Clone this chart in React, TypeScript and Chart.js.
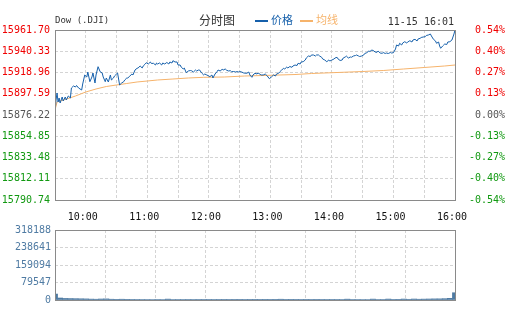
import React, { useEffect, useRef } from "react";
import { Chart, registerables } from "chart.js";

Chart.register(...registerables);

// ---------- data ----------
const titleText = "Dow (.DJI)";
const chartTypeText = "分时图";
const dateText = "11-15 16:01";
const priceLabel = "价格";
const avgLabel = "均线";

const prevClose = 15876.22;

const yTickValues = [15961.70, 15940.33, 15918.96, 15897.59, 15876.22, 15854.85, 15833.48, 15812.11, 15790.74];
const yTickLabels = ["15961.70", "15940.33", "15918.96", "15897.59", "15876.22", "15854.85", "15833.48", "15812.11", "15790.74"];
const pctTickLabels = ["0.54%", "0.40%", "0.27%", "0.13%", "0.00%", "-0.13%", "-0.27%", "-0.40%", "-0.54%"];

// minutes since 09:30
const gridMinutes = [0, 30, 60, 90, 120, 150, 180, 210, 240, 270, 300, 330, 360, 390];
const timeTickMinutes = [30, 90, 150, 210, 270, 330, 390];
const timeTickLabels = ["10:00", "11:00", "12:00", "13:00", "14:00", "15:00", "16:00"];

const priceMinutes = [
  0, 1, 2, 3, 4, 5, 7, 8, 10, 11,
  13, 15, 16, 18, 20, 21, 23, 26, 27, 29,
  31, 32, 34, 36, 37, 39, 40, 42, 44, 46,
  47, 49, 50, 52, 54, 55, 57, 58, 61, 62,
  63, 65, 67, 68, 70, 71, 73, 75, 76, 78,
  80, 81, 83, 85, 86, 88, 89, 91, 93, 94,
  96, 98, 99, 100, 102, 104, 105, 107, 109, 111,
  112, 114, 115, 117, 119, 120, 122, 123, 125, 126,
  128, 130, 132, 133, 135, 137, 138, 140, 141, 143,
  145, 146, 148, 150, 151, 153, 154, 156, 158, 159,
  161, 163, 164, 166, 167, 169, 171, 172, 174, 176,
  177, 179, 180, 182, 184, 187, 189, 190, 192, 193,
  195, 197, 198, 200, 201, 203, 205, 207, 209, 211,
  213, 215, 216, 218, 219, 221, 223, 224, 226, 227,
  229, 231, 232, 234, 236, 237, 239, 240, 242, 244,
  245, 247, 249, 250, 252, 254, 255, 257, 258, 260,
  261, 263, 265, 267, 268, 270, 272, 273, 275, 276,
  278, 280, 281, 283, 284, 286, 288, 289, 291, 293,
  294, 296, 297, 299, 301, 302, 304, 306, 307, 309,
  311, 312, 314, 315, 317, 319, 320, 322, 323, 325,
  327, 328, 330, 332, 333, 335, 336, 338, 339, 341,
  343, 344, 346, 348, 349, 351, 353, 354, 356, 357,
  359, 361, 362, 364, 366, 367, 369, 371, 372, 374,
  375, 376, 378, 379, 380, 382, 383, 385, 387, 389,
  390,
];

const prices = [
  15878.23, 15891.30, 15898.34, 15889.29, 15893.32, 15888.29, 15894.32, 15890.30, 15894.32, 15891.30,
  15895.33, 15893.32, 15903.37, 15905.38, 15904.38, 15905.89, 15903.37, 15901.36, 15907.40, 15916.45,
  15914.43, 15919.46, 15909.71, 15914.43, 15918.46, 15908.40, 15916.45, 15924.79, 15919.76, 15918.46,
  15914.43, 15909.71, 15913.43, 15909.41, 15916.45, 15911.42, 15913.43, 15915.44, 15918.46, 15912.42,
  15906.39, 15908.40, 15909.71, 15911.42, 15913.43, 15913.43, 15915.44, 15917.45, 15916.45, 15921.47,
  15923.18, 15923.49, 15925.50, 15923.49, 15925.50, 15927.51, 15928.82, 15927.51, 15929.52, 15928.01,
  15928.21, 15926.50, 15928.51, 15927.51, 15928.51, 15926.50, 15928.51, 15927.51, 15929.02, 15927.51,
  15929.52, 15928.51, 15930.83, 15929.52, 15929.52, 15926.50, 15926.50, 15924.49, 15922.48, 15923.49,
  15918.76, 15920.47, 15920.97, 15920.77, 15919.46, 15921.47, 15920.47, 15921.47, 15921.47, 15918.46,
  15916.45, 15917.45, 15916.45, 15915.44, 15914.74, 15916.45, 15913.43, 15917.45, 15919.76, 15921.47,
  15920.47, 15922.18, 15921.47, 15922.48, 15921.47, 15920.47, 15920.77, 15919.76, 15919.96, 15919.46,
  15919.96, 15919.46, 15919.96, 15919.46, 15918.46, 15918.15, 15919.46, 15916.45, 15914.13, 15916.45,
  15918.15, 15917.45, 15918.46, 15917.15, 15916.45, 15916.45, 15917.45, 15915.44, 15912.72, 15914.43,
  15916.45, 15915.44, 15917.45, 15918.15, 15919.46, 15921.47, 15923.18, 15922.48, 15924.49, 15923.49,
  15924.99, 15924.19, 15925.50, 15926.50, 15926.00, 15928.21, 15927.51, 15929.52, 15929.82, 15931.53,
  15933.54, 15935.55, 15935.05, 15936.56, 15936.56, 15935.55, 15936.56, 15936.56, 15935.55, 15934.25,
  15932.54, 15931.53, 15929.82, 15931.53, 15930.52, 15931.53, 15932.54, 15933.54, 15934.25, 15932.54,
  15931.03, 15931.53, 15933.54, 15934.55, 15935.55, 15933.54, 15934.55, 15934.25, 15935.55, 15936.06,
  15936.56, 15935.55, 15935.05, 15935.55, 15936.56, 15938.07, 15938.87, 15940.58, 15940.08, 15941.59,
  15940.58, 15939.58, 15939.27, 15940.58, 15938.57, 15938.27, 15939.07, 15938.07, 15938.57, 15938.07,
  15939.07, 15938.57, 15938.87, 15942.59, 15946.62, 15945.61, 15948.33, 15946.62, 15948.63, 15949.93,
  15948.63, 15949.63, 15950.94, 15949.63, 15951.64, 15952.35, 15950.64, 15952.65, 15953.35, 15954.16,
  15954.66, 15954.96, 15956.17, 15956.67, 15957.68, 15955.67, 15952.35, 15950.64, 15948.33, 15949.63,
  15945.61, 15943.30, 15945.61, 15946.62, 15947.62, 15947.12, 15949.63, 15949.93, 15951.64, 15957.68,
  15961.70,
];

const avgMinutes = [0, 2, 10, 20, 30, 40, 50, 60, 70, 80, 90, 100, 115, 130, 145, 165, 185, 210, 235, 250, 275, 300, 320, 340, 360, 380, 390];
const avgPrices = [
  15881.25, 15889.29, 15891.81, 15895.33, 15899.35, 15902.37, 15904.88, 15906.39, 15907.90, 15909.41,
  15910.41, 15911.42, 15912.42, 15913.43, 15914.13, 15914.43, 15915.44, 15916.15, 15916.95, 15917.95,
  15918.96, 15919.96, 15920.97, 15922.48, 15923.99, 15925.50, 15926.50,
];

const volTickValues = [318188, 238641, 159094, 79547, 0];
const volTickLabels = ["318188", "238641", "159094", "79547", "0"];
const volGridMinutes = [0, 48.75, 97.5, 146.25, 195, 243.75, 292.5, 341.25, 390];

const volMinutes = [
  0, 5, 10, 15, 20, 25, 30, 35, 40, 45,
  50, 55, 60, 65, 70, 75, 80, 85, 90, 95,
  100, 105, 110, 115, 120, 125, 130, 135, 140, 145,
  150, 155, 160, 165, 170, 175, 180, 185, 190, 195,
  200, 205, 210, 215, 220, 225, 230, 235, 240, 245,
  250, 255, 260, 265, 270, 275, 280, 285, 290, 295,
  300, 305, 310, 315, 320, 325, 330, 335, 340, 345,
  350, 355, 360, 365, 370, 375, 380, 385, 390,
];
const volumes = [
  27000, 9000, 7000, 6500, 6000, 5500, 5000, 4000, 3500, 4500,
  5000, 3500, 3000, 3500, 3000, 2800, 2600, 2500, 2400, 2300,
  2500, 2200, 4000, 2100, 2000, 2000, 1900, 2000, 1900, 1800,
  1800, 1900, 1800, 1700, 1800, 1700, 1700, 1800, 1700, 1600,
  1700, 1600, 1700, 1600, 3500, 1700, 1600, 1700, 1800, 1700,
  1800, 1700, 1800, 1900, 1800, 1900, 2000, 3800, 2000, 2100,
  2200, 2300, 4000, 2500, 2600, 4200, 2800, 3000, 4300, 3200,
  4400, 3500, 4000, 4500, 5000, 5200, 6000, 7500, 33000,
];

// ---------- styles ----------
const MONO = "'DejaVu Sans Mono', 'Liberation Mono', monospace";
const CJK = "'Noto Sans CJK SC', sans-serif";
const PRICE_COLOR = "#1660ab";
const AVG_COLOR = "#f6b36b";
const VOL_COLOR = "#4f7ba3";
const RED = "#f00000";
const GREEN = "#119911";
const GRAY = "#555555";
const GRID_COLOR = "#d4d4d4";
const FRAME_COLOR = "#8a8a8a";

const framePlugin = {
  id: "frame",
  afterDraw(chart: any) {
    const { ctx, chartArea } = chart;
    ctx.save();
    ctx.strokeStyle = FRAME_COLOR;
    ctx.lineWidth = 1;
    ctx.strokeRect(
      chartArea.left + 0.5,
      chartArea.top + 0.5,
      chartArea.right - chartArea.left,
      chartArea.bottom - chartArea.top
    );
    ctx.restore();
  },
};

const headerPlugin = {
  id: "header",
  afterDraw(chart: any) {
    const { ctx } = chart;
    ctx.save();
    ctx.textBaseline = "middle";
    ctx.textAlign = "left";
    ctx.fillStyle = "#333";
    ctx.font = `9px ${MONO}`;
    ctx.fillText(titleText, 55, 21);
    ctx.font = `12px ${CJK}`;
    ctx.fillText(chartTypeText, 199, 20);
    // legend
    ctx.fillStyle = PRICE_COLOR;
    ctx.fillRect(255, 20, 13, 2);
    ctx.font = `11px ${CJK}`;
    ctx.fillText(priceLabel, 271, 20);
    ctx.fillStyle = AVG_COLOR;
    ctx.fillRect(300, 20, 13, 2);
    ctx.fillText(avgLabel, 316, 20);
    // date
    ctx.fillStyle = "#333";
    ctx.font = `10px ${MONO}`;
    ctx.textAlign = "right";
    ctx.fillText(dateText, 454, 22);
    ctx.restore();
  },
};

const findIndex = (arr: number[], v: number) =>
  arr.findIndex((a) => Math.abs(a - v) < 0.001);

const priceColor = (ctx: any) => {
  const v = ctx.tick ? ctx.tick.value : prevClose;
  if (v > prevClose + 0.001) return RED;
  if (v < prevClose - 0.001) return GREEN;
  return GRAY;
};

export default function App() {
  const mainRef = useRef<HTMLCanvasElement | null>(null);
  const volRef = useRef<HTMLCanvasElement | null>(null);

  useEffect(() => {
    document.body.style.margin = "0";
    const yAsc = [...yTickValues].reverse();
    const volAsc = [...volTickValues].reverse();

    const main = new Chart(mainRef.current as HTMLCanvasElement, {
      type: "line",
      data: {
        datasets: [
          {
            label: priceLabel,
            data: priceMinutes.map((m, i) => ({ x: m, y: prices[i] })),
            borderColor: PRICE_COLOR,
            borderWidth: 1,
            pointRadius: 0,
            tension: 0,
            yAxisID: "y",
          },
          {
            label: avgLabel,
            data: avgMinutes.map((m, i) => ({ x: m, y: avgPrices[i] })),
            borderColor: AVG_COLOR,
            borderWidth: 1,
            pointRadius: 0,
            tension: 0,
            yAxisID: "y",
          },
        ],
      },
      options: {
        animation: false,
        responsive: false,
        maintainAspectRatio: false,
        events: [],
        layout: { padding: { top: 30, left: 0, right: 0, bottom: 0 } },
        plugins: { legend: { display: false }, tooltip: { enabled: false } },
        scales: {
          x: {
            type: "linear",
            min: 0,
            max: 390,
            afterBuildTicks: (s: any) => {
              s.ticks = gridMinutes.map((v) => ({ value: v }));
            },
            afterFit: (s: any) => {
              s.height = 130;
            },
            grid: { color: GRID_COLOR, lineWidth: 1, drawTicks: false },
            border: { display: false, dash: [3, 2] },
            ticks: {
              autoSkip: false,
              maxRotation: 0,
              padding: 11,
              labelOffset: -3,
              color: "#111",
              font: { family: MONO, size: 10 },
              callback: (v: any) => {
                const i = timeTickMinutes.indexOf(Number(v));
                return i >= 0 ? timeTickLabels[i] : "";
              },
            },
          },
          y: {
            position: "left",
            min: yTickValues[yTickValues.length - 1],
            max: yTickValues[0],
            afterBuildTicks: (s: any) => {
              s.ticks = yAsc.map((v) => ({ value: v }));
            },
            afterFit: (s: any) => {
              s.width = 55;
            },
            grid: { color: GRID_COLOR, lineWidth: 1, drawTicks: false },
            border: { display: false, dash: [3, 2] },
            ticks: {
              padding: 5,
              color: priceColor,
              font: { family: MONO, size: 10 },
              callback: (v: any) => {
                const i = findIndex(yTickValues, Number(v));
                return i >= 0 ? yTickLabels[i] : "";
              },
            },
          },
          y2: {
            position: "right",
            min: yTickValues[yTickValues.length - 1],
            max: yTickValues[0],
            afterBuildTicks: (s: any) => {
              s.ticks = yAsc.map((v) => ({ value: v }));
            },
            afterFit: (s: any) => {
              s.width = 50;
            },
            grid: { display: false, drawTicks: false },
            border: { display: false },
            ticks: {
              padding: 8,
              crossAlign: "far",
              color: priceColor,
              font: { family: MONO, size: 10 },
              callback: (v: any) => {
                const i = findIndex(yTickValues, Number(v));
                return i >= 0 ? pctTickLabels[i] : "";
              },
            },
          },
        },
      } as any,
      plugins: [framePlugin, headerPlugin],
    });

    const vol = new Chart(volRef.current as HTMLCanvasElement, {
      type: "bar",
      data: {
        datasets: [
          {
            data: volMinutes.map((m, i) => ({ x: m, y: volumes[i] })),
            backgroundColor: VOL_COLOR,
            borderWidth: 0,
            barPercentage: 1,
            categoryPercentage: 1,
          },
        ],
      },
      options: {
        animation: false,
        responsive: false,
        maintainAspectRatio: false,
        events: [],
        layout: { padding: { top: 230, left: 0, right: 50, bottom: 0 } },
        plugins: { legend: { display: false }, tooltip: { enabled: false } },
        scales: {
          x: {
            type: "linear",
            min: 0,
            max: 390,
            offset: false,
            afterBuildTicks: (s: any) => {
              s.ticks = volGridMinutes.map((v) => ({ value: v }));
            },
            afterFit: (s: any) => {
              s.height = 30;
            },
            grid: { color: GRID_COLOR, lineWidth: 1, drawTicks: false, offset: false },
            border: { display: false, dash: [3, 2] },
            ticks: { display: false },
          },
          y: {
            min: 0,
            max: volTickValues[0],
            afterBuildTicks: (s: any) => {
              s.ticks = volAsc.map((v) => ({ value: v }));
            },
            afterFit: (s: any) => {
              s.width = 55;
            },
            grid: { color: GRID_COLOR, lineWidth: 1, drawTicks: false },
            border: { display: false, dash: [3, 2] },
            ticks: {
              padding: 4,
              color: VOL_COLOR,
              font: { family: MONO, size: 10 },
              callback: (v: any) => {
                const i = findIndex(volTickValues, Number(v));
                return i >= 0 ? volTickLabels[i] : "";
              },
            },
          },
        },
      } as any,
      plugins: [framePlugin],
    });

    return () => {
      main.destroy();
      vol.destroy();
    };
  }, []);

  return (
    <div style={{ position: "absolute", left: 0, top: 0, width: 505, height: 330, background: "#fff" }}>
      <canvas ref={volRef} width={505} height={330} style={{ position: "absolute", left: 0, top: 0 }} />
      <canvas ref={mainRef} width={505} height={330} style={{ position: "absolute", left: 0, top: 0 }} />
    </div>
  );
}
